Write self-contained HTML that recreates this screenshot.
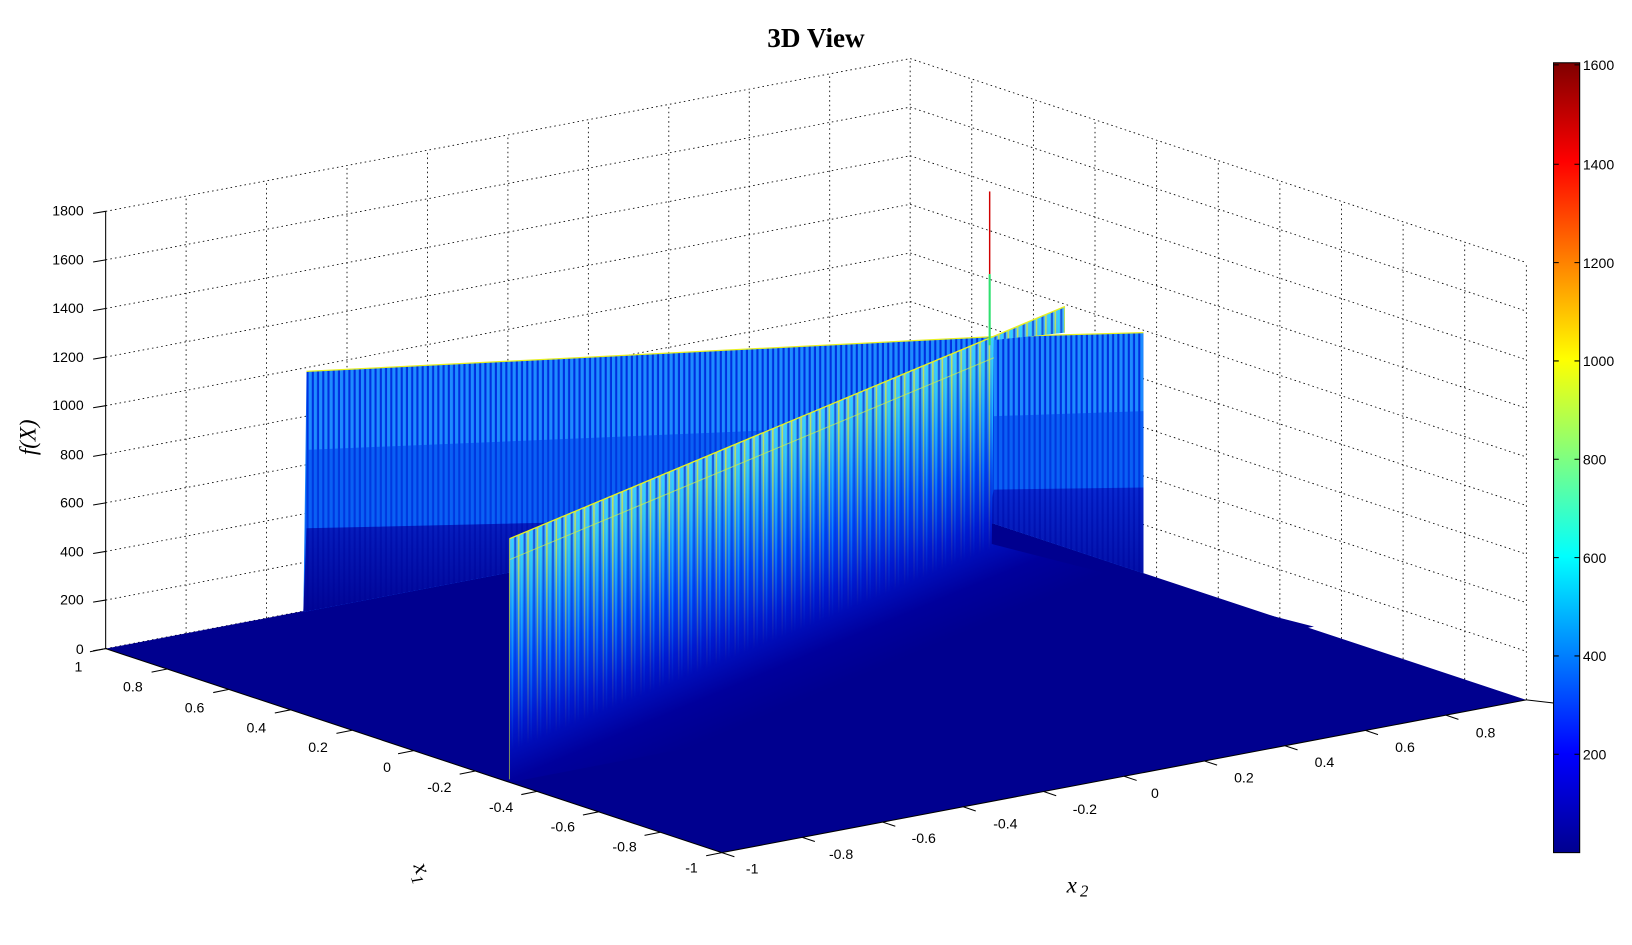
<!DOCTYPE html>
<html><head><meta charset="utf-8"><style>
html,body{margin:0;padding:0;background:#fff;}
svg{display:block;}
text{font-family:"Liberation Sans",Arial,sans-serif;font-size:13.5px;fill:#000;}
</style></head><body>
<svg width="1632" height="945" viewBox="0 0 1560 903.3" xmlns="http://www.w3.org/2000/svg">
<defs>
 <linearGradient id="jet" x1="0" y1="1" x2="0" y2="0">
  <stop offset="0" stop-color="#00008F"/><stop offset="0.125" stop-color="#0000FF"/>
  <stop offset="0.375" stop-color="#00FFFF"/><stop offset="0.625" stop-color="#FFFF00"/>
  <stop offset="0.875" stop-color="#FF0000"/><stop offset="1" stop-color="#800000"/>
 </linearGradient>
 <pattern id="pA" width="5" height="10" patternUnits="userSpaceOnUse">
  <rect width="5" height="10" fill="#1E8CFF"/><rect x="3" width="2" height="10" fill="#0030E0"/>
 </pattern>
 <pattern id="pB" width="5" height="10" patternUnits="userSpaceOnUse">
  <rect width="5" height="10" fill="#0A60F4"/><rect x="3" width="2" height="10" fill="#0038E0"/>
 </pattern>
 <pattern id="pC" width="5" height="10" patternUnits="userSpaceOnUse">
  <rect width="5" height="10" fill="#0828D0"/><rect x="3" width="2" height="10" fill="#0018C0"/>
 </pattern>
 <linearGradient id="lowfade" x1="0" y1="0" x2="0" y2="1">
  <stop offset="0" stop-color="#00008F" stop-opacity="0"/><stop offset="1" stop-color="#00008F" stop-opacity="0.9"/>
 </linearGradient>
 <linearGradient id="g2" gradientUnits="userSpaceOnUse" x1="700" y1="426" x2="797" y2="657">
  <stop offset="0" stop-color="#50c0ff"/><stop offset="0.1" stop-color="#40b8f0"/>
  <stop offset="0.25" stop-color="#1888ff"/><stop offset="0.45" stop-color="#0048f8"/>
  <stop offset="0.65" stop-color="#0018d0"/><stop offset="0.85" stop-color="#00009c"/>
  <stop offset="1" stop-color="#00008F"/>
 </linearGradient>
 <linearGradient id="m2" gradientUnits="userSpaceOnUse" x1="700" y1="426" x2="797" y2="657">
  <stop offset="0" stop-color="#fff"/><stop offset="0.45" stop-color="#888"/><stop offset="0.75" stop-color="#000"/>
 </linearGradient>
 <mask id="mask2"><rect x="0" y="0" width="1560" height="903" fill="url(#m2)"/></mask>
 <pattern id="pY" width="9" height="10" patternUnits="userSpaceOnUse">
  <rect x="0" width="1.5" height="10" fill="#e8f020"/><rect x="3" width="1.5" height="10" fill="#20e0ff"/><rect x="5.5" width="2" height="10" fill="#0028d0"/>
 </pattern>
 <clipPath id="c2"><polygon points="487,748 487,515 1018,293 1018,318 950,325 948,520 1256,599"/></clipPath>
</defs>

<g stroke="#000" stroke-width="0.8" stroke-dasharray="1.5,3" fill="none">
 <line x1="101" y1="620" x2="870" y2="474"/>
 <line x1="101" y1="573.6" x2="870" y2="427.6"/>
 <line x1="101" y1="527.1" x2="870" y2="381.1"/>
 <line x1="101" y1="480.7" x2="870" y2="334.7"/>
 <line x1="101" y1="434.2" x2="870" y2="288.2"/>
 <line x1="101" y1="387.8" x2="870" y2="241.8"/>
 <line x1="101" y1="341.3" x2="870" y2="195.3"/>
 <line x1="101" y1="294.9" x2="870" y2="148.9"/>
 <line x1="101" y1="248.4" x2="870" y2="102.4"/>
 <line x1="101" y1="202" x2="870" y2="56"/>
 <line x1="870" y1="427.6" x2="1459" y2="622.6"/>
 <line x1="870" y1="381.1" x2="1459" y2="576.1"/>
 <line x1="870" y1="334.7" x2="1459" y2="529.7"/>
 <line x1="870" y1="288.2" x2="1459" y2="483.2"/>
 <line x1="870" y1="241.8" x2="1459" y2="436.8"/>
 <line x1="870" y1="195.3" x2="1459" y2="390.3"/>
 <line x1="870" y1="148.9" x2="1459" y2="343.9"/>
 <line x1="870" y1="102.4" x2="1459" y2="297.4"/>
 <line x1="870" y1="56" x2="1459" y2="251"/>
 <line x1="177.9" y1="605.4" x2="177.9" y2="187.4"/>
 <line x1="254.8" y1="590.8" x2="254.8" y2="172.8"/>
 <line x1="331.7" y1="576.2" x2="331.7" y2="158.2"/>
 <line x1="408.6" y1="561.6" x2="408.6" y2="143.6"/>
 <line x1="485.5" y1="547" x2="485.5" y2="129"/>
 <line x1="562.4" y1="532.4" x2="562.4" y2="114.4"/>
 <line x1="639.3" y1="517.8" x2="639.3" y2="99.8"/>
 <line x1="716.2" y1="503.2" x2="716.2" y2="85.2"/>
 <line x1="793.1" y1="488.6" x2="793.1" y2="70.6"/>
 <line x1="870" y1="474" x2="870" y2="56"/>
 <line x1="928.9" y1="493.5" x2="928.9" y2="75.5"/>
 <line x1="987.8" y1="513" x2="987.8" y2="95"/>
 <line x1="1046.7" y1="532.5" x2="1046.7" y2="114.5"/>
 <line x1="1105.6" y1="552" x2="1105.6" y2="134"/>
 <line x1="1164.5" y1="571.5" x2="1164.5" y2="153.5"/>
 <line x1="1223.4" y1="591" x2="1223.4" y2="173"/>
 <line x1="1282.3" y1="610.5" x2="1282.3" y2="192.5"/>
 <line x1="1341.2" y1="630" x2="1341.2" y2="212"/>
 <line x1="1400.1" y1="649.5" x2="1400.1" y2="231.5"/>
 <line x1="1459" y1="669" x2="1459" y2="251"/>
</g>

<polygon points="101,620 690,815 1459,669 870,474" fill="#00008F"/>

<polygon points="290,585 293,355 945,322 1093,318 1093,548 870,474" fill="url(#pA)"/>
<polygon points="293,430 720,412 945,398 1093,393 1093,548 870,474 290,585" fill="url(#pB)"/>
<polygon points="293,505 945,490 950,468 1093,466 1093,548 870,474 290,585" fill="url(#pC)"/>
<polygon points="293,505 945,490 950,468 1093,466 1093,548 870,474 290,585" fill="url(#lowfade)"/>
<polyline points="293,355 945,322 1093,318" fill="none" stroke="#e8f020" stroke-width="1.2"/>

<polygon points="487,748 487,515 1018,293 1018,318 950,325 948,520 1256,599" fill="url(#g2)"/>
<g clip-path="url(#c2)" mask="url(#mask2)" opacity="0.7">
 <rect x="480" y="280" width="800" height="480" fill="url(#pY)"/>
</g>
<line x1="487" y1="515" x2="1018" y2="293" stroke="#e8f020" stroke-width="1.3"/>
<line x1="487" y1="535" x2="950" y2="342" stroke="#d0f040" stroke-width="1" opacity="0.7"/>
<line x1="487" y1="515" x2="487" y2="745" stroke="#c8e040" stroke-width="1" opacity="0.6"/>

<line x1="946" y1="183" x2="946" y2="262" stroke="#d00000" stroke-width="1.4"/>
<line x1="946" y1="262" x2="946" y2="330" stroke="#30e070" stroke-width="2"/>

<g stroke="#000" stroke-width="1" fill="none">
 <line x1="101" y1="202" x2="101" y2="620"/>
 <line x1="101" y1="620" x2="690" y2="815"/>
 <line x1="690" y1="815" x2="1459" y2="669"/>
 <line x1="1459" y1="669" x2="1485" y2="672"/>
 <path d="M101 620 l-12 2 M101 573.6 l-12 2 M101 527.1 l-12 2 M101 480.7 l-12 2 M101 434.2 l-12 2 M101 387.8 l-12 2 M101 341.3 l-12 2 M101 294.9 l-12 2 M101 248.4 l-12 2 M101 202 l-12 2"/>
 <path d="M101 620 l-15 3 M159.9 639.5 l-15 3 M218.8 659 l-15 3 M277.7 678.5 l-15 3 M336.6 698 l-15 3 M395.5 717.5 l-15 3 M454.4 737 l-15 3 M513.3 756.5 l-15 3 M572.2 776 l-15 3 M631.1 795.5 l-15 3 M690 815 l-15 3"/>
 <path d="M690 815 l12 4 M766.9 800.4 l12 4 M843.8 785.8 l12 4 M920.7 771.2 l12 4 M997.6 756.6 l12 4 M1074.5 742 l12 4 M1151.4 727.4 l12 4 M1228.3 712.8 l12 4 M1305.2 698.2 l12 4 M1382.1 683.6 l12 4"/>
</g>

<text x="780" y="45" text-anchor="middle" style="font-family:'Liberation Serif',serif;font-weight:bold;font-size:26px;">3D View</text>
<g text-anchor="end">
 <text x="80" y="625">0</text><text x="80" y="578">200</text><text x="80" y="532">400</text>
 <text x="80" y="485">600</text><text x="80" y="439">800</text><text x="80" y="392">1000</text>
 <text x="80" y="346">1200</text><text x="80" y="299">1400</text><text x="80" y="253">1600</text>
 <text x="80" y="206">1800</text>
</g>
<text transform="translate(34,418) rotate(-90)" text-anchor="middle" style="font-family:'Liberation Serif',serif;font-style:italic;font-size:22px;">f(X)</text>
<g text-anchor="middle">
 <text x="75" y="642">1</text><text x="127" y="661">0.8</text><text x="186" y="681">0.6</text>
 <text x="245" y="700">0.4</text><text x="304" y="719">0.2</text><text x="370" y="738">0</text>
 <text x="420" y="757">-0.2</text><text x="479" y="776">-0.4</text><text x="538" y="795">-0.6</text>
 <text x="597" y="814">-0.8</text><text x="661" y="834">-1</text>
 <text x="719" y="835">-1</text><text x="804" y="821">-0.8</text><text x="883" y="806">-0.6</text>
 <text x="961" y="792">-0.4</text><text x="1037" y="778">-0.2</text><text x="1104" y="763">0</text>
 <text x="1189" y="748">0.2</text><text x="1266" y="733">0.4</text><text x="1343" y="719">0.6</text>
 <text x="1420" y="705">0.8</text>
</g>
<text transform="translate(398,836) rotate(70)" text-anchor="middle" style="font-family:'Liberation Serif',serif;font-style:italic;font-size:22px;">x<tspan dy="6" font-size="16">1</tspan></text>
<text x="1030" y="853" text-anchor="middle" style="font-family:'Liberation Serif',serif;font-style:italic;font-size:22px;">x<tspan dy="4" dx="3" font-size="16">2</tspan></text>

<rect x="1485" y="60" width="25" height="755" fill="url(#jet)" stroke="#000" stroke-width="1"/>
<g stroke="#000" stroke-width="1">
 <path d="M1485 62 h5 M1505 62 h5 M1485 157 h5 M1505 157 h5 M1485 251 h5 M1505 251 h5 M1485 345 h5 M1505 345 h5 M1485 439 h5 M1505 439 h5 M1485 533 h5 M1505 533 h5 M1485 627 h5 M1505 627 h5 M1485 721 h5 M1505 721 h5"/>
</g>
<g>
 <text x="1513" y="67">1600</text><text x="1513" y="162">1400</text><text x="1513" y="256">1200</text>
 <text x="1513" y="350">1000</text><text x="1513" y="444">800</text><text x="1513" y="538">600</text>
 <text x="1513" y="632">400</text><text x="1513" y="726">200</text>
</g>
</svg>
</body></html>
